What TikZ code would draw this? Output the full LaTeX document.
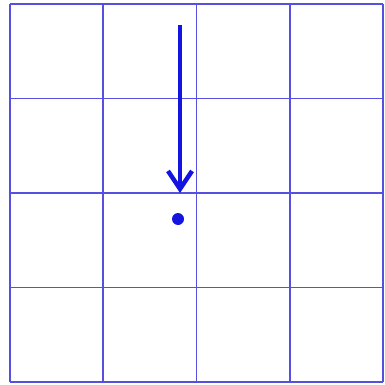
\documentclass[tikz,border=0pt]{standalone}
\usetikzlibrary{arrows.meta}
\definecolor{gridc}{RGB}{85,80,225}
\definecolor{arrc}{RGB}{20,20,225}
\tikzset{gridline/.style={draw=gridc,line width=1.8pt},
 arrowline/.style={draw=arrc,line width=4.5pt,-{Straight Barb[length=18pt,width=24pt,line width=4.5pt]}},
 dotnode/.style={circle,fill=arrc,inner sep=0pt,minimum size=12pt}}
\begin{document}
\begin{tikzpicture}[x=1pt,y=-1pt]
\useasboundingbox[fill=white] (0,0) rectangle (385,385);
\foreach \xx in {10,103.25,196.5,289.75,383} \draw[gridline] (\xx,4) -- (\xx,382);
\foreach \yy in {4,98.5,193,287.5,382} \draw[gridline] (10,\yy) -- (383,\yy);
\coordinate (start) at (180,25);
\coordinate (tip) at (180,193);
\draw[arrowline] (start) -- (tip);
\node[dotnode] (dot) at (178,219) {};
\end{tikzpicture}
\end{document}
